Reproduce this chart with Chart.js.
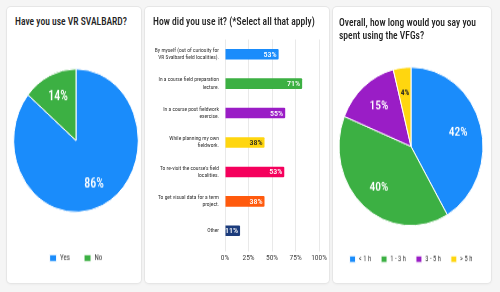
<!DOCTYPE html>
<html>
<head>
<meta charset="utf-8">
<script src="https://cdn.jsdelivr.net/npm/chart.js@4.4.1/dist/chart.umd.min.js"></script>
<style>
  body { margin: 0; width: 500px; height: 292px; background: #f5f5f5; overflow: hidden; font-family: "Roboto Condensed", Roboto, sans-serif; }
  .panel { position: absolute; top: 7px; height: 276px; background: #fff; border-radius: 4px;
           box-shadow: 0 0 0 1px #e6e6e6, 0 1px 3px rgba(0,0,0,0.07); }
  .title { position: absolute; font-weight: 500; font-size: 9.6px; line-height: 10.8px; color: #222;
           transform: scaleY(1.2); transform-origin: 0 0; white-space: nowrap; }
  canvas { position: absolute; left: 0; top: 0; transform-origin: 0 0; }
</style>
</head>
<body>
<div class="panel" style="left:7px;width:134px">
  <div class="title" style="left:8px;top:7.5px">Have you use VR SVALBARD?</div>
  <canvas id="useChart" width="134" height="240" style="transform:scaleY(1.15)"></canvas>
</div>
<div class="panel" style="left:145px;width:184px">
  <div class="title" style="left:8px;top:7.5px">How did you use it? (*Select all that apply)</div>
  <canvas id="howChart" width="184" height="276"></canvas>
</div>
<div class="panel" style="left:333px;width:158px">
  <div class="title" style="left:6px;top:8.5px">Overall, how long would you say you<br>spent using the VFGs?</div>
  <canvas id="timeChart" width="158" height="251" style="transform:scaleY(1.10)"></canvas>
</div>
<script>
const FONT = "'Roboto Condensed', Roboto, sans-serif";

// Q1: Have you use VR SVALBARD?
const useLabels = ["Yes", "No"];
const useValues = [86, 14];
const useColors = ["#1a8cfb", "#3cb043"];

// Q2: How did you use it? (bar lengths, label text as printed)
const howLabels = [
    ["By myself (out of curiosity for", "VR Svalbard field localities)."],
    ["In a course field preparation", "lecture."],
    ["In a course post fieldwork", "exercise."],
    ["While planning my own", "fieldwork."],
    ["To re-visit the course's field", "localities."],
    ["To get visual data for a term", "project."],
    "Other"
];
const howValues = [57, 82, 64, 42, 63, 42, 16];
const howText = ["53%", "71%", "55%", "38%", "53%", "38%", "11%"];
const howColors = ["#1a8cfb", "#3cb043", "#9a1dc6", "#ffd60f", "#f5005c", "#ff5a0d", "#1c3c7c"];
const axisTicks = [0, 25, 50, 75, 100];

// Q3: Overall, how long ...
const timeLabels = ["< 1 h", "1 - 3 h", "3 - 5 h", "> 5 h"];
const timeValues = [42, 40, 15, 4];
const timeColors = ["#1a8cfb", "#3cb043", "#9a1dc6", "#ffd60f"];

// percent labels inside pie slices
const pieLabels = {
    id: "pieLabels",
    afterDatasetsDraw(chart, args, opts){
        const ctx = chart.ctx;
        const values = chart.data.datasets[0].data;
        chart.getDatasetMeta(0).data.forEach((arc, i) => {
            const p = arc.getProps(["x", "y", "startAngle", "endAngle", "outerRadius"], true);
            const mid = (p.startAngle + p.endAngle) / 2;
            const r = p.outerRadius * opts.radius;
            const dark = opts.darkIndex.includes(i);
            ctx.save();
            ctx.font = (dark ? "700 " + opts.smallSize : "500 " + opts.size) + "px " + FONT;
            ctx.fillStyle = dark ? "#222" : "#fff";
            ctx.textAlign = "center";
            ctx.textBaseline = "middle";
            ctx.fillText(values[i] + "%", p.x + Math.cos(mid) * r, p.y + Math.sin(mid) * r);
            ctx.restore();
        });
    }
};

// percent text at the end of each bar
const barLabels = {
    id: "barLabels",
    afterDatasetsDraw(chart){
        const ctx = chart.ctx;
        chart.getDatasetMeta(0).data.forEach((bar, i) => {
            ctx.save();
            ctx.font = "500 8px " + FONT;
            ctx.fillStyle = i === 3 ? "#222" : "#fff";
            ctx.textAlign = "right";
            ctx.textBaseline = "middle";
            ctx.fillText(howText[i], bar.x - 2, bar.y + 0.5);
            ctx.restore();
        });
    }
};

function pieLegend(pad, size, box){
    return {
        position: "bottom",
        labels: {
            boxWidth: box,
            boxHeight: 6,
            padding: pad,
            color: "#3a3a3a",
            font: {size: size, family: FONT}
        }
    };
}

new Chart(document.getElementById("useChart"), {
    type: "pie",
    data: {
        labels: useLabels,
        datasets: [{data: useValues, backgroundColor: useColors, borderColor: "#fff", borderWidth: 1}]
    },
    options: {
        responsive: false,
        animation: false,
        layout: {padding: {top: 31.4, bottom: 8.2, left: 6.2, right: 2.2}},
        plugins: {
            legend: pieLegend(14, 7, 7),
            tooltip: {enabled: false},
            pieLabels: {radius: 0.68, size: 12, smallSize: 8, darkIndex: []}
        }
    },
    plugins: [pieLabels]
});

new Chart(document.getElementById("howChart"), {
    type: "bar",
    data: {
        labels: howLabels,
        datasets: [{
            data: howValues,
            backgroundColor: howColors,
            barPercentage: 0.36,
            categoryPercentage: 1,
            borderRadius: 1
        }]
    },
    options: {
        indexAxis: "y",
        responsive: false,
        animation: false,
        layout: {padding: {top: 32.5, bottom: 0, left: 0, right: 9}},
        plugins: {legend: {display: false}, tooltip: {enabled: false}},
        scales: {
            x: {
                min: axisTicks[0],
                max: axisTicks[axisTicks.length - 1],
                afterBuildTicks: axis => { axis.ticks = axisTicks.map(v => ({value: v})); },
                afterFit: axis => { axis.height = 37.5; },
                grid: {color: "#e9e9e9", tickLength: 6, drawTicks: true},
                border: {display: false},
                ticks: {
                    callback: v => v + "%",
                    color: "#444",
                    padding: 2,
                    maxRotation: 0,
                    font: {size: 7.5, family: FONT}
                }
            },
            y: {
                afterFit: axis => { axis.width = 80; },
                grid: {display: false, drawTicks: false},
                border: {display: false},
                ticks: {
                    color: "#333",
                    padding: 6,
                    font: {size: 5.5, family: FONT, lineHeight: 1.3}
                }
            }
        }
    },
    plugins: [barLabels]
});

new Chart(document.getElementById("timeChart"), {
    type: "pie",
    data: {
        labels: timeLabels,
        datasets: [{data: timeValues, backgroundColor: timeColors, borderColor: "#fff", borderWidth: 1}]
    },
    options: {
        responsive: false,
        animation: false,
        layout: {padding: {top: 37.55, bottom: 8.55, left: 5.5, right: 7.5}},
        plugins: {
            legend: pieLegend(10, 6.5, 6),
            tooltip: {enabled: false},
            pieLabels: {radius: 0.68, size: 11.5, smallSize: 7.5, darkIndex: [3]}
        }
    },
    plugins: [pieLabels]
});
</script>
</body>
</html>
